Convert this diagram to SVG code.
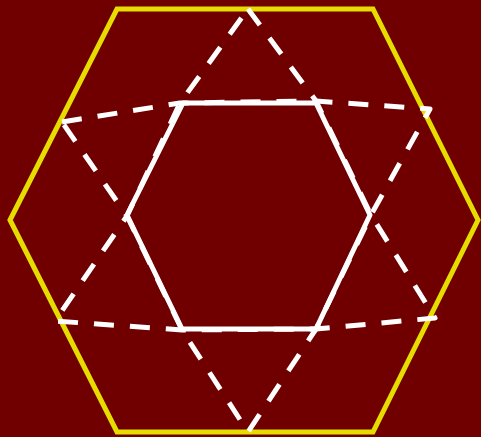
<svg xmlns="http://www.w3.org/2000/svg" width="481" height="437" viewBox="0 0 481 437">
<style>
.outer{fill:none;stroke:#e6dc00;stroke-width:5;stroke-linejoin:miter}
.inner{fill:none;stroke:#ffffff;stroke-width:5;stroke-linejoin:round}
.dash{fill:none;stroke:#ffffff;stroke-width:5;stroke-dasharray:20 16;stroke-linejoin:round}
</style>
<rect width="481" height="437" fill="#700000"/>
<g id="outer-hexagon"><polygon class="outer" points="117,9 373,9 478,220 373,432 117,432 10,220"/></g>
<g id="inner-hexagon"><polygon class="inner" points="183,103 316,103 370,215 316,329 182,329 127,215"/></g>
<g id="connectors">
<path class="dash" d="M62,122 L180,103 L316,101 L430,109 L371,215 L316,329 L248,432 L182,330 L127,216 Z"/>
<path class="dash" d="M248,9 L316,101 L371,215 L435,318 L316,329 L182,330 L55,321 L127,216 L180,103 Z"/>
</g>
</svg>
